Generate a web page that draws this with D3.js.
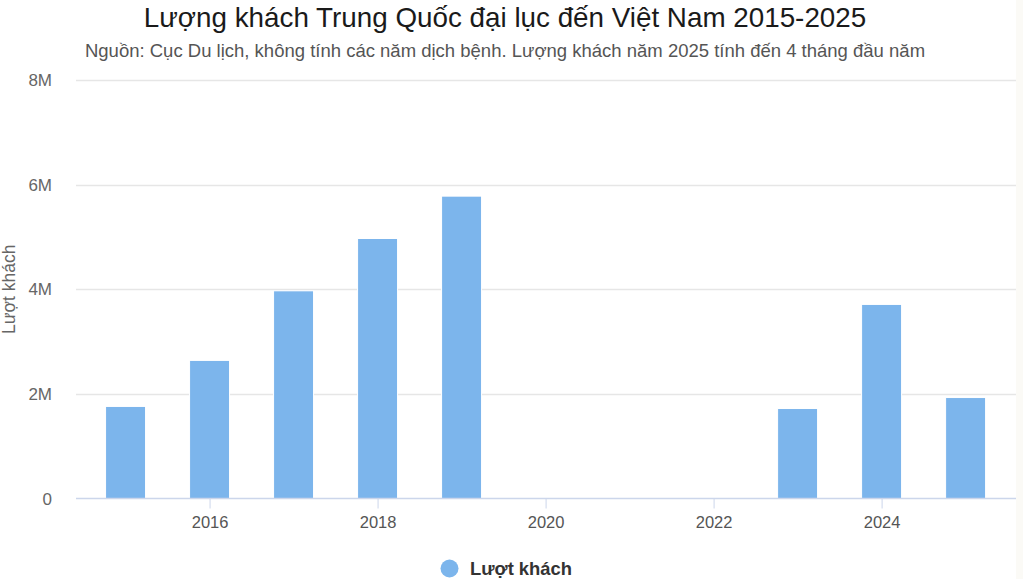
<!DOCTYPE html>
<html><head><meta charset="utf-8">
<script src="https://cdn.jsdelivr.net/npm/d3@7/dist/d3.min.js"></script>
<style>
html,body{margin:0;padding:0;background:#fff;}
svg{display:block;font-family:"Liberation Sans",Arial,Helvetica,sans-serif;}
</style></head>
<body>
<svg id="chart" width="1023" height="579"></svg>
<script>
const years = [2015,2016,2017,2018,2019,2020,2021,2022,2023,2024,2025];
const visitors = [1760000,2640000,3970000,4970000,5780000,null,null,null,1720000,3710000,1930000];
const yTicks = [0,2000000,4000000,6000000,8000000];
const yTickLabels = ["0","2M","4M","6M","8M"];
const xTicks = [2016,2018,2020,2022,2024];
const titleText = "Lượng khách Trung Quốc đại lục đến Việt Nam 2015-2025";
const subtitleText = "Nguồn: Cục Du lịch, không tính các năm dịch bệnh. Lượng khách năm 2025 tính đến 4 tháng đầu năm";
const seriesName = "Lượt khách";

const svg = d3.select("#chart");
const W = 1023, H = 579;
const plot = {left:76, right:1016, top:80, bottom:498.5};

svg.append("rect").attr("x",plot.right).attr("y",0).attr("width",W-plot.right).attr("height",H).attr("fill","#fbfaf6");

const x = d3.scaleLinear().domain([2014.41, 2025.6]).range([plot.left, plot.right]);
const y = d3.scaleLinear().domain([0, 8000000]).range([plot.bottom, plot.top]);

// gridlines
svg.append("g").selectAll("line").data(yTicks.filter(d=>d>0)).join("line")
  .attr("x1",plot.left).attr("x2",plot.right)
  .attr("y1",d=>Math.round(y(d))+0.5).attr("y2",d=>Math.round(y(d))+0.5)
  .attr("stroke","#e6e6e6").attr("stroke-width",1.5);

// y labels
svg.append("g").selectAll("text").data(yTicks).join("text")
  .attr("x",52).attr("y",d=>y(d)+6)
  .attr("text-anchor","end").attr("font-size",17).attr("fill","#666")
  .text((d,i)=>yTickLabels[i]);

// y axis title
svg.append("text")
  .attr("transform",`translate(15,${(plot.top+plot.bottom)/2}) rotate(-90)`)
  .attr("text-anchor","middle").attr("font-size",17.5).attr("fill","#666")
  .text(seriesName);

// bars
const bw = 0.476;
svg.append("g").selectAll("rect").data(years.map((yr,i)=>({yr,v:visitors[i]})).filter(d=>d.v!=null)).join("rect")
  .attr("x",d=>x(d.yr-bw/2)).attr("width",d=>x(d.yr+bw/2)-x(d.yr-bw/2))
  .attr("y",d=>y(d.v)).attr("height",d=>y(0)-y(d.v))
  .attr("fill","#7cb5ec").attr("stroke","#fff").attr("stroke-width",1);

// x axis
const xAxis = d3.axisBottom(x).tickValues(xTicks).tickSize(10).tickFormat(d3.format("d"));
const gx = svg.append("g").attr("transform",`translate(0,${plot.bottom})`).call(xAxis);
gx.select(".domain").attr("stroke","#ccd6eb").attr("stroke-width",1.5).attr("d",`M${plot.left},0H${plot.right}`);
gx.selectAll(".tick line").attr("stroke","#ccd6eb").attr("stroke-width",1);
gx.selectAll(".tick text").attr("font-size",16.5).attr("fill","#555").attr("dy",0).attr("y",29)
  .attr("font-family","'Liberation Sans',Arial,sans-serif");

// title
svg.append("text").attr("x",505).attr("y",27).attr("text-anchor","middle")
  .attr("font-size",27.8).attr("fill","#1a1a1a").text(titleText);
svg.append("text").attr("x",505).attr("y",57).attr("text-anchor","middle")
  .attr("font-size",18.5).attr("fill","#555").text(subtitleText);

// legend
svg.append("circle").attr("cx",449.5).attr("cy",568.5).attr("r",9).attr("fill","#7cb5ec");
svg.append("text").attr("x",470).attr("y",575).attr("font-size",18.4).attr("font-weight","bold")
  .attr("fill","#333").text(seriesName);
</script>
</body></html>
